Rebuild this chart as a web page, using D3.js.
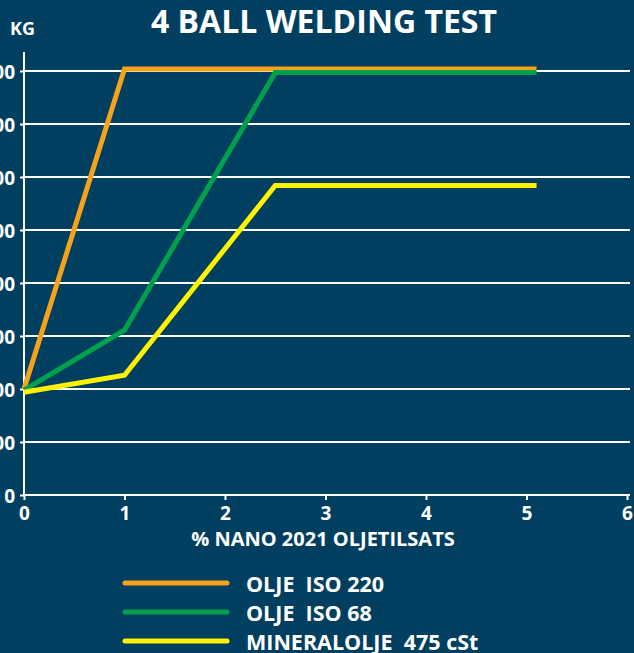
<!DOCTYPE html>
<html>
<head>
<meta charset="utf-8">
<script src="https://cdn.jsdelivr.net/npm/d3@7"></script>
<style>
  html, body { margin: 0; padding: 0; background: #013f60; }
  svg { display: block; }
  text { font-family: "Open Sans", sans-serif; font-weight: 700; fill: #fff; }
</style>
</head>
<body>
<svg></svg>
<script>
var w = 634, h = 653;

// data
var xTicks = [0, 1, 2, 3, 4, 5, 6];
var yTicks = [0, 100, 200, 300, 400, 500, 600, 700, 800];
var seriesNames = ["OLJE  ISO 220", "OLJE  ISO 68", "MINERALOLJE  475 cSt"];
var seriesColors = ["#f7a21b", "#00a04c", "#fff200"];
var iso220 = [[0, 200], [1, 804], [5.1, 804]];
var iso68 = [[0, 198], [1, 311], [2.5, 797], [5.1, 797]];
var mineral = [[0, 194], [1, 226], [2.5, 584], [5.1, 584]];
var series = [iso220, iso68, mineral];

var svg = d3.select("svg")
            .attr("width", w)
            .attr("height", h);

var x = d3.scaleLinear().domain([0, 6]).range([24, 627]);
var y = d3.scaleLinear().domain([0, 800]).range([495, 71]);

// title
svg.append("text")
   .attr("x", 324).attr("y", 33)
   .attr("text-anchor", "middle")
   .attr("font-size", 32)
   .text("4 BALL WELDING TEST");

svg.append("text")
   .attr("x", 10).attr("y", 35)
   .attr("font-size", 18)
   .text("KG");

// gridlines
svg.append("g")
   .selectAll("line")
   .data(yTicks.slice(1))
   .enter()
   .append("line")
   .attr("x1", x(0)).attr("x2", 630)
   .attr("y1", function(d) { return y(d); })
   .attr("y2", function(d) { return y(d); })
   .attr("stroke", "#fff")
   .attr("stroke-width", 2);

// y axis
var yAxis = svg.append("g")
   .attr("transform", "translate(" + x(0) + ",0)")
   .call(d3.axisLeft(y).tickValues(yTicks).tickFormat(d3.format("d")).tickSize(4).tickPadding(5));
yAxis.select(".domain").remove();
yAxis.append("line")
   .attr("x1", 0).attr("x2", 0)
   .attr("y1", 52).attr("y2", y(0))
   .attr("stroke", "#fff").attr("stroke-width", 2);
yAxis.selectAll(".tick line").attr("stroke", "#fff").attr("stroke-width", 2);
yAxis.selectAll(".tick text")
   .style("font-size", "19px").attr("dy", "0.38em");

// x axis
var xAxis = svg.append("g")
   .attr("transform", "translate(0," + y(0) + ")")
   .call(d3.axisBottom(x).tickValues(xTicks).tickFormat(d3.format("d")).tickSize(5).tickPadding(4));
xAxis.select(".domain").remove();
xAxis.append("line")
   .attr("x1", x(0)).attr("x2", 630)
   .attr("stroke", "#fff").attr("stroke-width", 2);
xAxis.selectAll(".tick line").attr("stroke", "#fff").attr("stroke-width", 2);
xAxis.selectAll(".tick text")
   .style("font-size", "19px").attr("dy", "0.82em");

svg.append("text")
   .attr("x", 323).attr("y", 546)
   .attr("text-anchor", "middle")
   .attr("font-size", 20)
   .text("% NANO 2021 OLJETILSATS");

// lines
var line = d3.line()
   .x(function(d) { return x(d[0]); })
   .y(function(d) { return y(d[1]); });

svg.append("g")
   .selectAll("path")
   .data(series)
   .enter()
   .append("path")
   .attr("d", line)
   .attr("fill", "none")
   .attr("stroke", function(d, i) { return seriesColors[i]; })
   .attr("stroke-width", 5)
   .attr("stroke-linejoin", "miter");

// legend
var legend = svg.append("g")
   .selectAll("g")
   .data(seriesNames)
   .enter()
   .append("g")
   .attr("transform", function(d, i) { return "translate(0," + (583 + i * 29) + ")"; });

legend.append("line")
   .attr("x1", 125).attr("x2", 227)
   .attr("stroke", function(d, i) { return seriesColors[i]; })
   .attr("stroke-width", 5)
   .attr("stroke-linecap", "round");

legend.append("text")
   .attr("x", 246).attr("y", 8.5)
   .attr("font-size", 21.5)
   .style("white-space", "pre")
   .text(function(d) { return d; });
</script>
</body>
</html>
